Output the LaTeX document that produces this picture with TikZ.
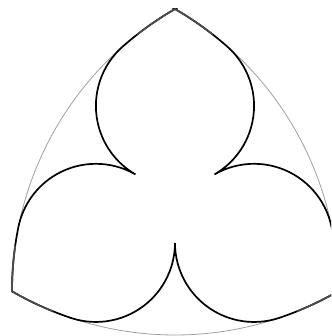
\documentclass[tikz,border=0pt]{standalone}
\begin{document}
\begin{tikzpicture}[x=1pt,y=1pt,
  reul/.style={draw=gray!75, line width=0.8pt},
  trefoil/.style={draw=black, line width=1.7pt},
  tip/.style={draw=black!70, line width=1.7pt}]
\useasboundingbox (0,0) rectangle (331,336);
\clip (0,0) rectangle (331,336);
\coordinate (A) at (175,327);
\coordinate (B) at (12,44.676);
\coordinate (C) at (338,44.676);
% Reuleaux triangle
\draw[reul] (A) arc[start angle=120,end angle=180,radius=326]
  arc[start angle=240,end angle=300,radius=326]
  arc[start angle=0,end angle=60,radius=326] -- cycle;
% trefoil outline
\draw[trefoil] (A)
  arc[start angle=120,end angle=131.32,radius=326]
  arc[start angle=131.32,end angle=240,radius=79.101]
  arc[start angle=60,end angle=168.69,radius=79.101]
  arc[start angle=168.69,end angle=180,radius=326]
  arc[start angle=240,end angle=251.31,radius=326]
  arc[start angle=251.31,end angle=360,radius=79.101]
  arc[start angle=180,end angle=288.69,radius=79.101]
  arc[start angle=288.69,end angle=300,radius=326]
  arc[start angle=0,end angle=11.31,radius=326]
  arc[start angle=11.31,end angle=120,radius=79.101]
  arc[start angle=-60,end angle=48.68,radius=79.101]
  arc[start angle=48.68,end angle=60,radius=326] -- cycle;
% darker-grey parts along the Reuleaux arcs near the corners
\coordinate (a1) at ([shift={(52:326)}]B);
\coordinate (b1) at ([shift={(172:326)}]C);
\coordinate (c1) at ([shift={(292:326)}]A);
\draw[tip] (a1) arc[start angle=52,end angle=60,radius=326]
  arc[start angle=120,end angle=128,radius=326];
\draw[tip] (b1) arc[start angle=172,end angle=180,radius=326]
  arc[start angle=240,end angle=248,radius=326];
\draw[tip] (c1) arc[start angle=292,end angle=300,radius=326]
  arc[start angle=0,end angle=8,radius=326];
\end{tikzpicture}
\end{document}
